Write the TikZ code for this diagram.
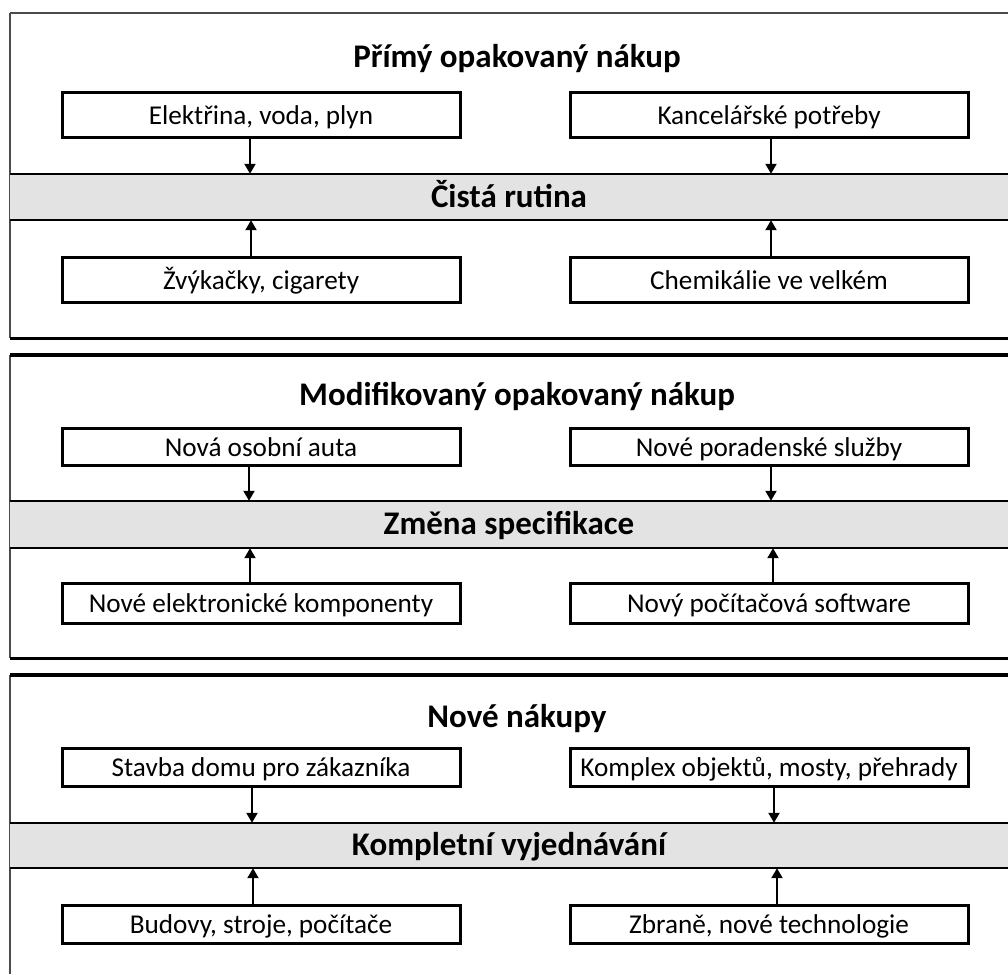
\documentclass[tikz,border=0pt]{standalone}
\usepackage{fontspec}
\setmainfont{Carlito}
\usetikzlibrary{arrows.meta}
\begin{document}
\begin{tikzpicture}[x=1pt,y=-1pt,
  itembox/.style={draw=black,line width=3pt,fill=white,minimum width=398pt,inner sep=0pt,text height=20pt,text depth=1pt,font=\fontsize{27.2}{31}\selectfont},
  bandnode/.style={fill=black!11,minimum width=998pt,inner sep=0pt,text height=22pt,text depth=2pt,font=\bfseries\fontsize{33}{38}\selectfont},
  titlenode/.style={font=\bfseries\fontsize{33}{38}\selectfont,inner sep=0pt,text height=22pt,text depth=2pt},
  bandline/.style={line width=2.5pt,black},
  frameline/.style={line width=3pt,black},
  thinframe/.style={line width=1.5pt,black!70},
  arr/.style={line width=2pt,-{Triangle[length=10pt,width=11pt]}}]
\useasboundingbox (0,0) rectangle (1008,974);

% ---------- Panel 1 ----------
\draw[thinframe] (10,13) -- (1008,13);
\draw[thinframe] (10,13) -- (10,338);
\draw[frameline] (10,338) -- (1008,338);
\node[titlenode] (t1) at (517,57) {Přímý opakovaný nákup};
\node[bandnode,minimum height=46pt] (b1) at (509,197) {Čistá rutina};
\draw[bandline] (b1.north west) -- (b1.north east);
\draw[bandline] (b1.south west) -- (b1.south east);
\node[itembox,minimum height=45pt] (a1) at (261,114.5) {Elektřina, voda, plyn};
\node[itembox,minimum height=45pt] (a2) at (769,114.5) {Kancelářské potřeby};
\node[itembox,minimum height=45pt] (a3) at (261,279.5) {Žvýkačky, cigarety};
\node[itembox,minimum height=45pt] (a4) at (769,279.5) {Chemikálie ve velkém};
\draw[arr] ([xshift=-11pt]a1.south) -- ([xshift=-11pt]a1.south |- b1.north);
\draw[arr] ([xshift=2pt]a2.south) -- ([xshift=2pt]a2.south |- b1.north);
\draw[arr] ([xshift=-10pt]a3.north) -- ([xshift=-10pt]a3.north |- b1.south);
\draw[arr] ([xshift=2pt]a4.north) -- ([xshift=2pt]a4.north |- b1.south);

% ---------- Panel 2 ----------
\draw[thinframe] (10,355) -- (10,658);
\draw[line width=4pt,black] (10,355) -- (1008,355);
\draw[frameline] (10,658) -- (1008,658);
\node[titlenode] (t2) at (517,395) {Modifikovaný opakovaný nákup};
\node[bandnode,minimum height=47pt] (b2) at (509,524.5) {Změna specifikace};
\draw[bandline] (b2.north west) -- (b2.north east);
\draw[bandline] (b2.south west) -- (b2.south east);
\node[itembox,minimum height=37pt] (c1) at (261,446.5) {Nová osobní auta};
\node[itembox,minimum height=37pt] (c2) at (769,446.5) {Nové poradenské služby};
\node[itembox,minimum height=40pt] (c3) at (261,603) {Nové elektronické komponenty};
\node[itembox,minimum height=40pt] (c4) at (769,603) {Nový počítačová software};
\draw[arr] ([xshift=-12pt]c1.south) -- ([xshift=-12pt]c1.south |- b2.north);
\draw[arr] ([xshift=2pt]c2.south) -- ([xshift=2pt]c2.south |- b2.north);
\draw[arr] ([xshift=-11pt]c3.north) -- ([xshift=-11pt]c3.north |- b2.south);
\draw[arr] ([xshift=4pt]c4.north) -- ([xshift=4pt]c4.north |- b2.south);

% ---------- Panel 3 ----------
\draw[thinframe] (10,675) -- (10,974);
\draw[line width=4pt,black] (10,675) -- (1008,675);
\node[titlenode] (t3) at (517,717) {Nové nákupy};
\node[bandnode,minimum height=45pt] (b3) at (509,845.5) {Kompletní vyjednávání};
\draw[bandline] (b3.north west) -- (b3.north east);
\draw[bandline] (b3.south west) -- (b3.south east);
\node[itembox,minimum height=38pt] (d1) at (261,767) {Stavba domu pro zákazníka};
\node[itembox,minimum height=38pt] (d2) at (769,767) {Komplex objektů, mosty, přehrady};
\node[itembox,minimum height=38pt] (d3) at (261,924) {Budovy, stroje, počítače};
\node[itembox,minimum height=38pt] (d4) at (769,924) {Zbraně, nové technologie};
\draw[arr] ([xshift=-9pt]d1.south) -- ([xshift=-9pt]d1.south |- b3.north);
\draw[arr] ([xshift=5pt]d2.south) -- ([xshift=5pt]d2.south |- b3.north);
\draw[arr] ([xshift=-8pt]d3.north) -- ([xshift=-8pt]d3.north |- b3.south);
\draw[arr] ([xshift=8pt]d4.north) -- ([xshift=8pt]d4.north |- b3.south);
\end{tikzpicture}
\end{document}
